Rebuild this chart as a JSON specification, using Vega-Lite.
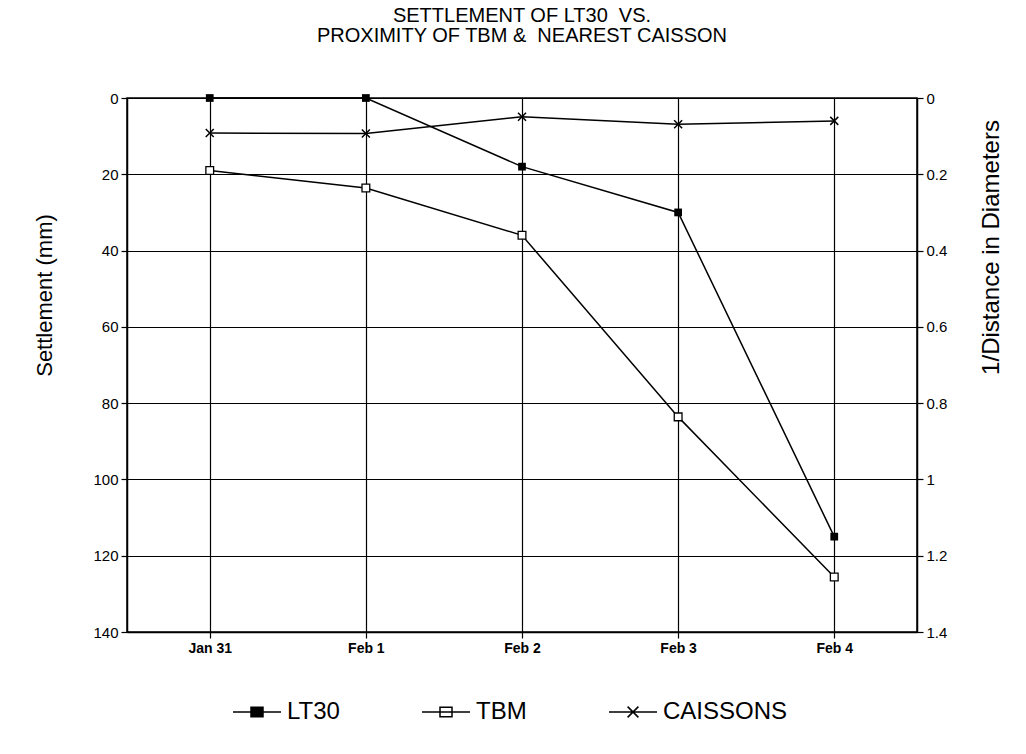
{
  "$schema": "https://vega.github.io/schema/vega-lite/v6.json",
  "width": 790,
  "height": 534,
  "autosize": {"type": "none"},
  "padding": {"left": 127, "top": 98, "right": 109, "bottom": 122},
  "background": "white",
  "title": {
    "text": ["SETTLEMENT OF LT30\u00a0 VS.", "PROXIMITY OF TBM &\u00a0 NEAREST CAISSON"],
    "fontSize": 20,
    "fontWeight": "normal",
    "font": "Liberation Sans",
    "anchor": "middle",
    "offset": 45,
    "lineHeight": 20,
    "color": "black"
  },
  "config": {
    "font": "Liberation Sans",
    "view": {"stroke": "black", "strokeWidth": 1.5},
    "axis": {
      "domainColor": "black",
      "domainWidth": 1.5,
      "tickColor": "black",
      "tickWidth": 1.2,
      "tickSize": 6,
      "gridColor": "black",
      "gridOpacity": 1,
      "gridWidth": 1.2,
      "labelColor": "black",
      "titleColor": "black",
      "labelFont": "Liberation Sans",
      "titleFont": "Liberation Sans",
      "titleFontWeight": "normal"
    },
    "legend": {
      "labelFont": "Liberation Sans",
      "labelFontSize": 24,
      "labelColor": "black",
      "symbolSize": 576,
      "symbolStrokeColor": "black",
      "symbolStrokeWidth": 1.5,
      "symbolOpacity": 1,
      "labelOffset": 17,
      "columnPadding": 79,
      "padding": 0
    }
  },
  "datasets": {
    "lt30": [
      {"day": "Jan 31", "series": "LT30", "settlement": 0},
      {"day": "Feb 1", "series": "LT30", "settlement": 0},
      {"day": "Feb 2", "series": "LT30", "settlement": 18},
      {"day": "Feb 3", "series": "LT30", "settlement": 30},
      {"day": "Feb 4", "series": "LT30", "settlement": 115}
    ],
    "dist": [
      {"day": "Jan 31", "series": "TBM", "inv_dist": 0.19},
      {"day": "Feb 1", "series": "TBM", "inv_dist": 0.236},
      {"day": "Feb 2", "series": "TBM", "inv_dist": 0.36},
      {"day": "Feb 3", "series": "TBM", "inv_dist": 0.836},
      {"day": "Feb 4", "series": "TBM", "inv_dist": 1.256},
      {"day": "Jan 31", "series": "CAISSONS", "inv_dist": 0.092},
      {"day": "Feb 1", "series": "CAISSONS", "inv_dist": 0.093},
      {"day": "Feb 2", "series": "CAISSONS", "inv_dist": 0.049},
      {"day": "Feb 3", "series": "CAISSONS", "inv_dist": 0.069},
      {"day": "Feb 4", "series": "CAISSONS", "inv_dist": 0.06}
    ]
  },
  "encoding": {
    "x": {
      "field": "day",
      "type": "ordinal",
      "sort": ["Jan 31", "Feb 1", "Feb 2", "Feb 3", "Feb 4"],
      "scale": {"type": "point", "padding": 0.53},
      "axis": {
        "title": null,
        "grid": true,
        "labelAngle": 0,
        "labelFontSize": 14,
        "labelFontWeight": "bold",
        "labelPadding": 3
      }
    }
  },
  "layer": [
    {
      "data": {"name": "lt30"},
      "encoding": {
        "y": {
          "field": "settlement",
          "type": "quantitative",
          "scale": {"domain": [0, 140], "reverse": true, "nice": false, "zero": false},
          "axis": {
            "orient": "left",
            "values": [0, 20, 40, 60, 80, 100, 120, 140],
            "format": "d",
            "grid": true,
            "labelFontSize": 15,
            "labelPadding": 3,
            "title": "Settlement (mm)",
            "titleFontSize": 22,
            "titlePadding": 36,
            "titleY": 197
          }
        }
      },
      "layer": [
        {"mark": {"type": "line", "color": "black", "strokeWidth": 1.5}},
        {"mark": {"type": "point", "shape": "square", "filled": true, "color": "black", "size": 60, "opacity": 1}},
        {
          "mark": {"type": "point", "color": "black", "stroke": "black", "strokeWidth": 1.5, "opacity": 0},
          "encoding": {
            "shape": {
              "field": "series",
              "type": "nominal",
              "scale": {
                "domain": ["LT30", "TBM", "CAISSONS"],
                "range": [
                  "M-2,0H-0.5M0.5,0H2M-0.5,-0.4H0.5V0.4H-0.5Z",
                  "M-2,0H2M-0.5,-0.4H0.5V0.4H-0.5Z",
                  "M-2,0H2M-0.45,-0.45L0.45,0.45M-0.45,0.45L0.45,-0.45"
                ]
              },
              "legend": {
                "title": null, "orient": "none", "direction": "horizontal",
                "legendX": 117, "legendY": 601,
                "symbolStrokeColor": "black", "symbolStrokeWidth": 1.5, "symbolOpacity": 1,
                "encode": {"symbols": {"update": {"stroke": {"value": "black"}, "strokeWidth": {"value": 1.5}, "opacity": {"value": 1}}}}
              }
            },
            "fill": {
              "field": "series",
              "type": "nominal",
              "scale": {"domain": ["LT30", "TBM", "CAISSONS"], "range": ["black", "white", "transparent"]},
              "legend": {
                "title": null, "orient": "none", "direction": "horizontal",
                "legendX": 117, "legendY": 601,
                "symbolStrokeColor": "black", "symbolStrokeWidth": 1.5, "symbolOpacity": 1,
                "encode": {"symbols": {"update": {"stroke": {"value": "black"}, "strokeWidth": {"value": 1.5}, "opacity": {"value": 1}}}}
              }
            }
          }
        }
      ]
    },
    {
      "data": {"name": "dist"},
      "encoding": {
        "y": {
          "field": "inv_dist",
          "type": "quantitative",
          "scale": {"domain": [0, 1.4], "reverse": true, "nice": false, "zero": false},
          "axis": {
            "orient": "right",
            "values": [0, 0.2, 0.4, 0.6, 0.8, 1, 1.2, 1.4],
            "format": ".1~f",
            "grid": false,
            "labelFontSize": 15,
            "labelPadding": 3,
            "title": "1/Distance in Diameters",
            "titleFontSize": 24,
            "titleAngle": 270,
            "titleBaseline": "top",
            "titlePadding": 33,
            "titleY": 149
          }
        }
      },
      "layer": [
        {
          "mark": {"type": "line", "color": "black", "strokeWidth": 1.5},
          "encoding": {"detail": {"field": "series", "type": "nominal"}}
        },
        {
          "transform": [{"filter": "datum.series === 'TBM'"}],
          "mark": {"type": "point", "shape": "square", "filled": true, "fill": "white", "stroke": "black", "strokeWidth": 1.3, "size": 60, "opacity": 1}
        },
        {
          "transform": [{"filter": "datum.series === 'CAISSONS'"}],
          "mark": {"type": "point", "shape": "M-1,-1L1,1M-1,1L1,-1", "filled": false, "stroke": "black", "strokeWidth": 1.5, "size": 64, "opacity": 1}
        }
      ]
    }
  ],
  "resolve": {"scale": {"y": "independent"}}
}
